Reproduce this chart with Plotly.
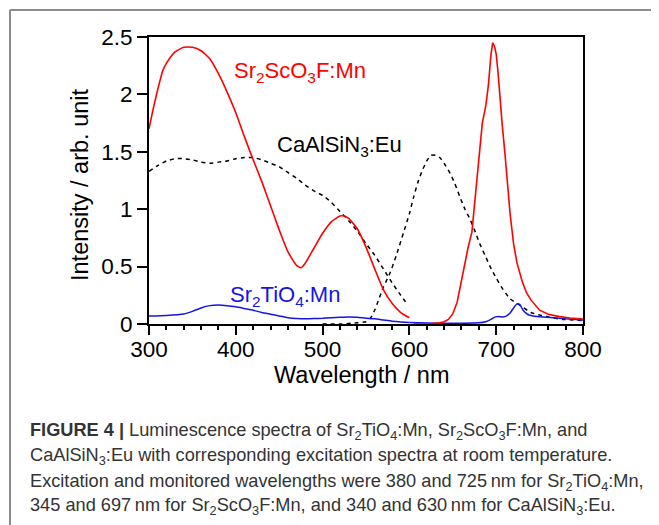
import plotly.graph_objects as go

# ---------------- data ----------------
sc_exc_wl = [300, 305, 310, 316, 320, 330, 340, 350, 360, 370, 380, 390, 400, 410, 420, 430, 440, 450, 460, 470, 475, 480, 490, 500, 510, 520, 525, 530, 540, 550, 560, 570, 580, 590, 600]
sc_exc_i = [1.70, 1.88, 2.04, 2.21, 2.27, 2.37, 2.41, 2.41, 2.38, 2.31, 2.18, 2.02, 1.84, 1.63, 1.43, 1.24, 1.03, 0.82, 0.63, 0.51, 0.49, 0.53, 0.66, 0.79, 0.89, 0.94, 0.94, 0.92, 0.83, 0.67, 0.48, 0.30, 0.18, 0.10, 0.055]

sc_em_wl = [605, 620, 635, 640, 645, 650, 655, 660, 664, 668, 672, 676, 680, 684, 688, 691, 694, 696, 698, 700, 702, 704, 707, 710, 713, 716, 720, 724, 730, 735, 740, 750, 760, 773, 785, 800]
sc_em_i = [0.0, 0.0, 0.01, 0.02, 0.04, 0.09, 0.19, 0.38, 0.56, 0.68, 0.80, 1.10, 1.45, 1.75, 1.90, 2.08, 2.35, 2.45, 2.42, 2.35, 2.20, 1.98, 1.73, 1.49, 1.22, 0.96, 0.70, 0.53, 0.37, 0.27, 0.21, 0.12, 0.085, 0.064, 0.052, 0.044]

eu_exc_wl = [300, 310, 320, 330, 340, 350, 360, 370, 380, 390, 400, 410, 420, 430, 440, 450, 460, 470, 480, 490, 500, 510, 520, 530, 540, 550, 560, 570, 580, 590, 598]
eu_exc_i = [1.33, 1.38, 1.42, 1.44, 1.44, 1.43, 1.41, 1.40, 1.41, 1.42, 1.44, 1.45, 1.45, 1.43, 1.40, 1.37, 1.32, 1.27, 1.21, 1.16, 1.12, 1.06, 0.98, 0.90, 0.81, 0.70, 0.60, 0.48, 0.36, 0.25, 0.17]

eu_em_wl = [500, 520, 540, 550, 555, 560, 565, 570, 578, 585, 593, 600, 605, 610, 615, 620, 625, 630, 635, 640, 647, 652, 658, 664, 670, 676, 681, 687, 693, 700, 708, 716, 727, 740, 750, 760, 777, 800]
eu_em_i = [0.0, 0.0, 0.01, 0.02, 0.05, 0.12, 0.22, 0.32, 0.45, 0.60, 0.79, 0.96, 1.11, 1.24, 1.34, 1.42, 1.47, 1.47, 1.45, 1.40, 1.31, 1.23, 1.11, 1.00, 0.91, 0.80, 0.70, 0.60, 0.50, 0.40, 0.30, 0.22, 0.165, 0.10, 0.078, 0.06, 0.04, 0.03]

ti_exc_wl = [300, 320, 340, 350, 360, 370, 380, 390, 400, 410, 420, 430, 440, 450, 460, 470, 480, 490, 500, 510, 520, 530, 540, 550, 560, 570, 580, 590, 600]
ti_exc_i = [0.07, 0.075, 0.087, 0.11, 0.14, 0.16, 0.165, 0.16, 0.15, 0.135, 0.12, 0.10, 0.085, 0.07, 0.055, 0.048, 0.045, 0.047, 0.05, 0.055, 0.058, 0.06, 0.058, 0.05, 0.045, 0.035, 0.025, 0.018, 0.012]

ti_em_wl = [600, 620, 640, 660, 680, 688, 694, 699, 704, 708, 712, 716, 720, 724, 727, 731, 736, 741, 750, 766, 780, 800]
ti_em_i = [0.012, 0.008, 0.006, 0.006, 0.01, 0.02, 0.04, 0.062, 0.064, 0.06, 0.07, 0.095, 0.14, 0.175, 0.17, 0.12, 0.085, 0.072, 0.063, 0.055, 0.045, 0.035]

x_ticks = [300, 400, 500, 600, 700, 800]
y_ticks = [0, 0.5, 1, 1.5, 2, 2.5]
y_tick_text = ["0", "0.5", "1", "1.5", "2", "2.5"]

caption_lines = [
    "<b>FIGURE 4 |</b> Luminescence spectra of Sr<sub>2</sub>TiO<sub>4</sub>:Mn, Sr<sub>2</sub>ScO<sub>3</sub>F:Mn, and",
    "CaAlSiN<sub>3</sub>:Eu with corresponding excitation spectra at room temperature.",
    "Excitation and monitored wavelengths were 380 and 725\u2009nm for Sr<sub>2</sub>TiO<sub>4</sub>:Mn,",
    "345 and 697\u2009nm for Sr<sub>2</sub>ScO<sub>3</sub>F:Mn, and 340 and 630\u2009nm for CaAlSiN<sub>3</sub>:Eu.",
]

# ---------------- layout geometry ----------------
# the page body has an 8px margin, so figure pixel = screen pixel - 8
OFF = 8
W_FIG, H_FIG = 659, 525
L, R, T, B = 149 - OFF, 583 - OFF, 37 - OFF, 324 - OFF
PW, PH = R - L, B - T


def px(xs):
    return (xs - OFF - L) / PW


def py(ys):
    return (B - (ys - OFF)) / PH


RED = "rgb(255,0,0)"
BLUE = "rgb(20,20,230)"
FONT = "Liberation Sans, Arial, sans-serif"

fig = go.Figure()

line_red = dict(color=RED, width=1.6, shape="spline", smoothing=0.5)
line_blue = dict(color=BLUE, width=1.5, shape="spline", smoothing=0.5)
line_black = dict(color="black", width=1.5, dash="4px,4px", shape="spline", smoothing=0.5)

fig.add_trace(go.Scatter(x=eu_exc_wl, y=eu_exc_i, mode="lines", line=line_black))
fig.add_trace(go.Scatter(x=eu_em_wl, y=eu_em_i, mode="lines", line=line_black))
fig.add_trace(go.Scatter(x=ti_exc_wl, y=ti_exc_i, mode="lines", line=line_blue))
fig.add_trace(go.Scatter(x=ti_em_wl, y=ti_em_i, mode="lines", line=line_blue))
fig.add_trace(go.Scatter(x=sc_exc_wl, y=sc_exc_i, mode="lines", line=line_red))
fig.add_trace(go.Scatter(x=sc_em_wl, y=sc_em_i, mode="lines",
                         line=dict(color=RED, width=1.6, shape="linear")))

annotations = [
    dict(text="Sr<sub>2</sub>ScO<sub>3</sub>F:Mn", x=px(232), y=py(72), xanchor="left", yanchor="middle",
         font=dict(color=RED, size=22, family=FONT)),
    dict(text="CaAlSiN<sub>3</sub>:Eu", x=px(275), y=py(146), xanchor="left", yanchor="middle",
         font=dict(color="black", size=22, family=FONT)),
    dict(text="Sr<sub>2</sub>TiO<sub>4</sub>:Mn", x=px(228), y=py(296), xanchor="left", yanchor="middle",
         font=dict(color=BLUE, size=22, family=FONT)),
    dict(text="Wavelength / nm", x=px(361), y=py(375), xanchor="center", yanchor="middle",
         font=dict(color="black", size=23.5, family=FONT)),
    dict(text="Intensity / arb. unit", x=px(80), y=py(185), xanchor="center", yanchor="middle",
         textangle=-90, font=dict(color="black", size=23.5, family=FONT)),
]
cap_y = [431, 456.5, 482, 507]
for txt, yy in zip(caption_lines, cap_y):
    annotations.append(dict(text=txt, x=px(28), y=py(yy), xanchor="left", yanchor="middle",
                            font=dict(color="#333333", size=18.2, family=FONT)))
for a in annotations:
    a.update(xref="paper", yref="paper", showarrow=False)

shapes = [
    dict(type="line", xref="paper", yref="paper", x0=px(10), x1=px(720), y0=py(10), y1=py(10),
         line=dict(color="#8c8c8c", width=2)),
    dict(type="line", xref="paper", yref="paper", x0=px(10), x1=px(10), y0=py(10), y1=py(600),
         line=dict(color="#8c8c8c", width=2)),
]

fig.update_layout(
    width=W_FIG, height=H_FIG,
    margin=dict(l=L, r=W_FIG - R, t=T, b=H_FIG - B, pad=0),
    paper_bgcolor="white", plot_bgcolor="white",
    showlegend=False,
    annotations=annotations,
    shapes=shapes,
    font=dict(family=FONT, color="black"),
)
fig.update_xaxes(
    range=[300, 800], tickvals=x_ticks, ticks="outside", ticklen=9, tickwidth=1.5, tickcolor="black",
    showline=True, linecolor="black", linewidth=2, mirror=True, showgrid=False, zeroline=False,
    tickfont=dict(size=22.5, family=FONT, color="black"), ticklabelstandoff=-5,
    minor=dict(dtick=20, tick0=300, ticks="outside", ticklen=4, tickwidth=1.5, tickcolor="black", showgrid=False),
)
fig.update_yaxes(
    range=[0, 2.5], tickvals=y_ticks, ticktext=y_tick_text, ticks="outside", ticklen=10, tickwidth=1.5,
    tickcolor="black", showline=True, linecolor="black", linewidth=2, mirror=True, showgrid=False,
    zeroline=False, tickfont=dict(size=22.5, family=FONT, color="black"),
)

fig.write_html("out.html")
